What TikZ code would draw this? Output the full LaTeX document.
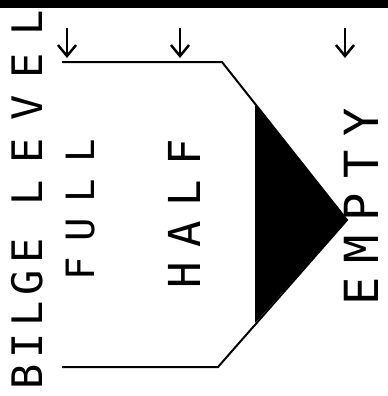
\documentclass[tikz,border=0pt]{standalone}
\usepackage{fontspec}
\newfontfamily\plotfont{DejaVu Sans Mono}
\usetikzlibrary{arrows.meta}
\tikzset{
  legend/.style  = {rotate=90, inner sep=0pt, text=black},
  outline/.style = {draw=black, line width=2bp, line join=miter},
  marker/.style  = {-{Straight Barb[length=11bp,width=18bp,line width=2.5bp]}, line width=2.5bp},
}

\begin{document}
\begin{tikzpicture}[x=1bp, y=-1bp]
  \useasboundingbox (0,0) rectangle (388,396);

  % heavy rule along the top
  \fill[black] (0,0) rectangle (388,8);

  % title, read from bottom to top
  \node[legend, font=\plotfont\fontsize{42bp}{42bp}\selectfont\addfontfeature{LetterSpace=15}]
       (bilge) at (27,314) {BILGE};
  \node[legend, font=\plotfont\fontsize{42bp}{42bp}\selectfont\addfontfeature{LetterSpace=41}]
       (lvl) at (27,108) {LEVEL};

  % level labels
  \node[legend, font=\plotfont\fontsize{39bp}{39bp}\selectfont\addfontfeature{LetterSpace=41}]
       (full) at (81,210) {FULL};
  \node[legend, font=\plotfont\fontsize{44bp}{44bp}\selectfont\addfontfeature{LetterSpace=33}]
       (half) at (184,214) {HALF};
  \node[legend, font=\plotfont\fontsize{47bp}{47bp}\selectfont\addfontfeature{LetterSpace=30}]
       (empty) at (361,207) {EMPTY};

  % gauge outline and the pointer
  \coordinate (tl) at (62,62);
  \coordinate (tr) at (222,62);
  \coordinate (tip) at (347,220);
  \coordinate (br) at (218,367);
  \coordinate (bl) at (62,367);
  \draw[outline] (tl) -- (tr) -- (tip) -- (br) -- (bl);
  \fill[black] (255,105) -- (tip) -- (255,323) -- cycle;

  % markers
  \coordinate (fullA) at (67,28);  \coordinate (fullB) at (67,58);
  \coordinate (halfA) at (180,28); \coordinate (halfB) at (180,58);
  \coordinate (emptyA) at (345,28); \coordinate (emptyB) at (345,58);
  \draw[marker] (fullA) -- (fullB);
  \draw[marker] (halfA) -- (halfB);
  \draw[marker] (emptyA) -- (emptyB);
\end{tikzpicture}
\end{document}
